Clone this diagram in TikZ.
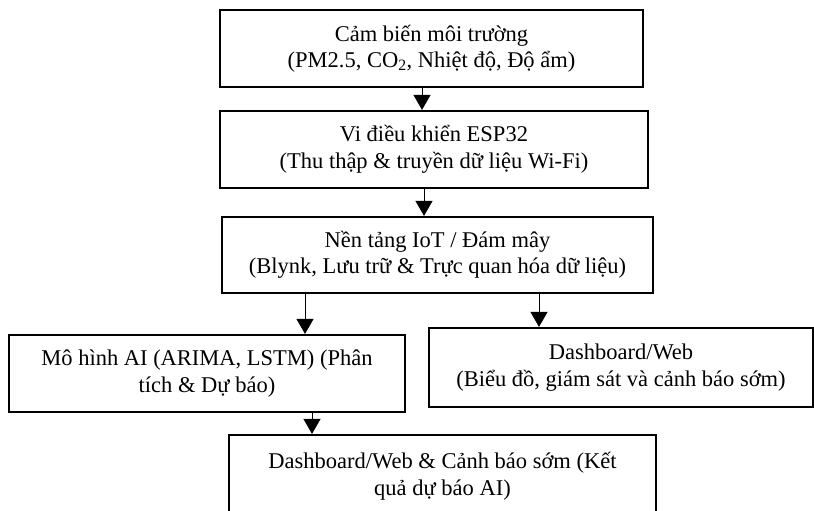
\documentclass[tikz,border=0pt]{standalone}
\usepackage{fontspec}
\setmainfont{Liberation Serif}
\usetikzlibrary{arrows.meta}
\begin{document}
\begin{tikzpicture}[x=1pt,y=-1pt,
  box/.style={draw=black,line width=2.2pt,rectangle,align=center,inner sep=0pt,
    font=\fontsize{22.5}{26.5}\selectfont},
  arr/.style={line width=1pt,-{Triangle[length=15pt,width=17pt]}}]
\useasboundingbox (0,0) rectangle (814,511);
\clip (0,0) rectangle (814,511);
\node[box,minimum width=423pt,minimum height=77pt] (b1) at (431.5,48.5)
  {Cảm biến môi trường\\(PM2.5, CO\textsubscript{2}, Nhiệt độ, Độ ẩm)};
\node[box,minimum width=428pt,minimum height=77pt] (b2) at (434,149.5)
  {Vi điều khiển ESP32\\(Thu thập \& truyền dữ liệu Wi-Fi)};
\node[box,minimum width=431pt,minimum height=76pt] (b3) at (437.5,255)
  {Nền tảng IoT / Đám mây\\(Blynk, Lưu trữ \& Trực quan hóa dữ liệu)};
\node[box,minimum width=396pt,minimum height=77pt] (b4) at (207,373.5)
  {Mô hình AI (ARIMA, LSTM) (Phân\\tích \& Dự báo)};
\node[box,minimum width=384pt,minimum height=79pt] (b5) at (621,367.5)
  {Dashboard/Web\\(Biểu đồ, giám sát và cảnh báo sớm)};
\node[box,minimum width=427pt,minimum height=82pt] (b6) at (442.5,476)
  {Dashboard/Web \& Cảnh báo sớm (Kết\\quả dự báo AI)};
\draw[arr] ([xshift=-9.5pt]b1.south) -- ([xshift=-12pt]b2.north);
\draw[arr] ([xshift=-10pt]b2.south) -- ([xshift=-13.5pt]b3.north);
\draw[arr] ([xshift=-132.5pt]b3.south) -- ([xshift=98pt]b4.north);
\draw[arr] ([xshift=101.5pt]b3.south) -- ([xshift=-82pt]b5.north);
\draw[arr] ([xshift=105pt]b4.south) -- ([xshift=-130.5pt]b6.north);
\end{tikzpicture}
\end{document}
